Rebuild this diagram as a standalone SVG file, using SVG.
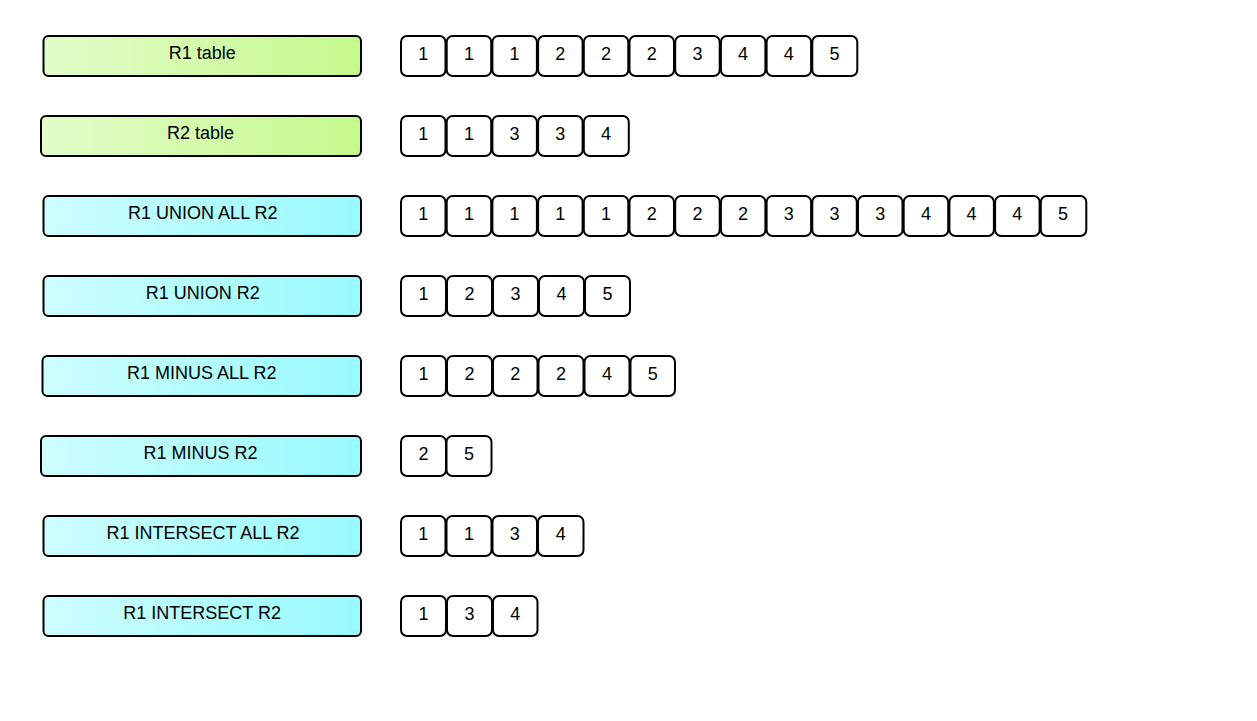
<svg xmlns="http://www.w3.org/2000/svg" width="1257" height="721" viewBox="0 0 1257 721">
<defs>
<linearGradient id="gGreen" x1="0" y1="0" x2="1" y2="0">
<stop offset="0" stop-color="#e3fcca"/>
<stop offset="1" stop-color="#c5fa8c"/>
</linearGradient>
<linearGradient id="gCyan" x1="0" y1="0" x2="1" y2="0">
<stop offset="0" stop-color="#cffefe"/>
<stop offset="1" stop-color="#97fafd"/>
</linearGradient>
<style>
.lbl rect{stroke:#000;stroke-width:2;}
.green rect{fill:url(#gGreen);}
.cyan rect{fill:url(#gCyan);}
.lbl text{font-family:"Liberation Sans",Arial,sans-serif;font-size:18px;fill:#000;text-anchor:middle;}
.cells rect{fill:#fff;stroke:#000;stroke-width:2;}
.cells text{font-family:"Liberation Sans",Arial,sans-serif;font-size:18px;fill:#000;text-anchor:middle;}
</style>
</defs>
<rect width="1257" height="721" fill="#fff"/>

<g id="label-r1" class="lbl green"><rect x="43.5" y="36" width="317.5" height="40" rx="5"/><text x="202.2" y="59">R1 table</text></g>
<g id="label-r2" class="lbl green"><rect x="41" y="116" width="320" height="40" rx="5"/><text x="200.5" y="139">R2 table</text></g>
<g id="label-unionall" class="lbl cyan"><rect x="43.5" y="196" width="317.5" height="40" rx="5"/><text x="202.8" y="219">R1 UNION ALL R2</text></g>
<g id="label-union" class="lbl cyan"><rect x="43.5" y="276" width="317.5" height="40" rx="5"/><text x="202.7" y="299">R1 UNION R2</text></g>
<g id="label-minusall" class="lbl cyan"><rect x="42.5" y="356" width="318.5" height="40" rx="5"/><text x="201.7" y="379">R1 MINUS ALL R2</text></g>
<g id="label-minus" class="lbl cyan"><rect x="41" y="436" width="320" height="40" rx="5"/><text x="200.5" y="459">R1 MINUS R2</text></g>
<g id="label-intersectall" class="lbl cyan"><rect x="43.5" y="516" width="317.5" height="40" rx="5"/><text x="203" y="539">R1 INTERSECT ALL R2</text></g>
<g id="label-intersect" class="lbl cyan"><rect x="43.5" y="596" width="317.5" height="40" rx="5"/><text x="202.2" y="619">R1 INTERSECT R2</text></g>

<g id="row-r1" class="cells">
<rect x="401" y="36" width="44.5" height="40" rx="6"/><text x="423.2" y="60">1</text>
<rect x="446.7" y="36" width="44.5" height="40" rx="6"/><text x="469" y="60">1</text>
<rect x="492.4" y="36" width="44.5" height="40" rx="6"/><text x="514.6" y="60">1</text>
<rect x="538.1" y="36" width="44.5" height="40" rx="6"/><text x="560.3" y="60">2</text>
<rect x="583.8" y="36" width="44.5" height="40" rx="6"/><text x="606" y="60">2</text>
<rect x="629.5" y="36" width="44.5" height="40" rx="6"/><text x="651.7" y="60">2</text>
<rect x="675.2" y="36" width="44.5" height="40" rx="6"/><text x="697.4" y="60">3</text>
<rect x="720.9" y="36" width="44.5" height="40" rx="6"/><text x="743.1" y="60">4</text>
<rect x="766.6" y="36" width="44.5" height="40" rx="6"/><text x="788.8" y="60">4</text>
<rect x="812.3" y="36" width="45" height="40" rx="6"/><text x="834.5" y="60">5</text>
</g>

<g id="row-r2" class="cells">
<rect x="401" y="116" width="44.5" height="40" rx="6"/><text x="423.2" y="140">1</text>
<rect x="446.7" y="116" width="44.5" height="40" rx="6"/><text x="469" y="140">1</text>
<rect x="492.4" y="116" width="44.5" height="40" rx="6"/><text x="514.6" y="140">3</text>
<rect x="538.1" y="116" width="44.5" height="40" rx="6"/><text x="560.3" y="140">3</text>
<rect x="583.8" y="116" width="45" height="40" rx="6"/><text x="606" y="140">4</text>
</g>

<g id="row-unionall" class="cells">
<rect x="401" y="196" width="44.5" height="40" rx="6"/><text x="423.2" y="220">1</text>
<rect x="446.7" y="196" width="44.5" height="40" rx="6"/><text x="469" y="220">1</text>
<rect x="492.4" y="196" width="44.5" height="40" rx="6"/><text x="514.6" y="220">1</text>
<rect x="538.1" y="196" width="44.5" height="40" rx="6"/><text x="560.3" y="220">1</text>
<rect x="583.8" y="196" width="44.5" height="40" rx="6"/><text x="606" y="220">1</text>
<rect x="629.5" y="196" width="44.5" height="40" rx="6"/><text x="651.7" y="220">2</text>
<rect x="675.2" y="196" width="44.5" height="40" rx="6"/><text x="697.4" y="220">2</text>
<rect x="720.9" y="196" width="44.5" height="40" rx="6"/><text x="743.1" y="220">2</text>
<rect x="766.6" y="196" width="44.5" height="40" rx="6"/><text x="788.8" y="220">3</text>
<rect x="812.3" y="196" width="44.5" height="40" rx="6"/><text x="834.5" y="220">3</text>
<rect x="858" y="196" width="44.5" height="40" rx="6"/><text x="880.2" y="220">3</text>
<rect x="903.7" y="196" width="44.5" height="40" rx="6"/><text x="925.9" y="220">4</text>
<rect x="949.4" y="196" width="44.5" height="40" rx="6"/><text x="971.6" y="220">4</text>
<rect x="995.1" y="196" width="44.5" height="40" rx="6"/><text x="1017.3" y="220">4</text>
<rect x="1040.8" y="196" width="45.5" height="40" rx="6"/><text x="1063" y="220">5</text>
</g>

<g id="row-union" class="cells">
<rect x="401" y="276" width="45" height="40" rx="6"/><text x="423.5" y="300">1</text>
<rect x="447" y="276" width="45" height="40" rx="6"/><text x="469.5" y="300">2</text>
<rect x="493" y="276" width="45" height="40" rx="6"/><text x="515.5" y="300">3</text>
<rect x="539" y="276" width="45" height="40" rx="6"/><text x="561.5" y="300">4</text>
<rect x="585" y="276" width="45" height="40" rx="6"/><text x="607.5" y="300">5</text>
</g>

<g id="row-minusall" class="cells">
<rect x="401" y="356" width="45" height="40" rx="6"/><text x="423.5" y="380">1</text>
<rect x="447" y="356" width="45" height="40" rx="6"/><text x="469.5" y="380">2</text>
<rect x="493" y="356" width="44.5" height="40" rx="6"/><text x="515.3" y="380">2</text>
<rect x="538.5" y="356" width="45" height="40" rx="6"/><text x="561" y="380">2</text>
<rect x="584.5" y="356" width="45" height="40" rx="6"/><text x="607" y="380">4</text>
<rect x="630.5" y="356" width="44.5" height="40" rx="6"/><text x="652.7" y="380">5</text>
</g>

<g id="row-minus" class="cells">
<rect x="401" y="436" width="45" height="40" rx="6"/><text x="423.5" y="460">2</text>
<rect x="446.5" y="436" width="45" height="40" rx="6"/><text x="469" y="460">5</text>
</g>

<g id="row-intersectall" class="cells">
<rect x="401" y="516" width="44.5" height="40" rx="6"/><text x="423.2" y="540">1</text>
<rect x="446.5" y="516" width="45" height="40" rx="6"/><text x="469" y="540">1</text>
<rect x="492.5" y="516" width="44.5" height="40" rx="6"/><text x="514.8" y="540">3</text>
<rect x="538" y="516" width="45.5" height="40" rx="6"/><text x="560.7" y="540">4</text>
</g>

<g id="row-intersect" class="cells">
<rect x="401" y="596" width="45" height="40" rx="6"/><text x="423.5" y="620">1</text>
<rect x="447" y="596" width="45" height="40" rx="6"/><text x="469.5" y="620">3</text>
<rect x="493" y="596" width="44.5" height="40" rx="6"/><text x="515.2" y="620">4</text>
</g>
<g id="connectors"/>
</svg>
